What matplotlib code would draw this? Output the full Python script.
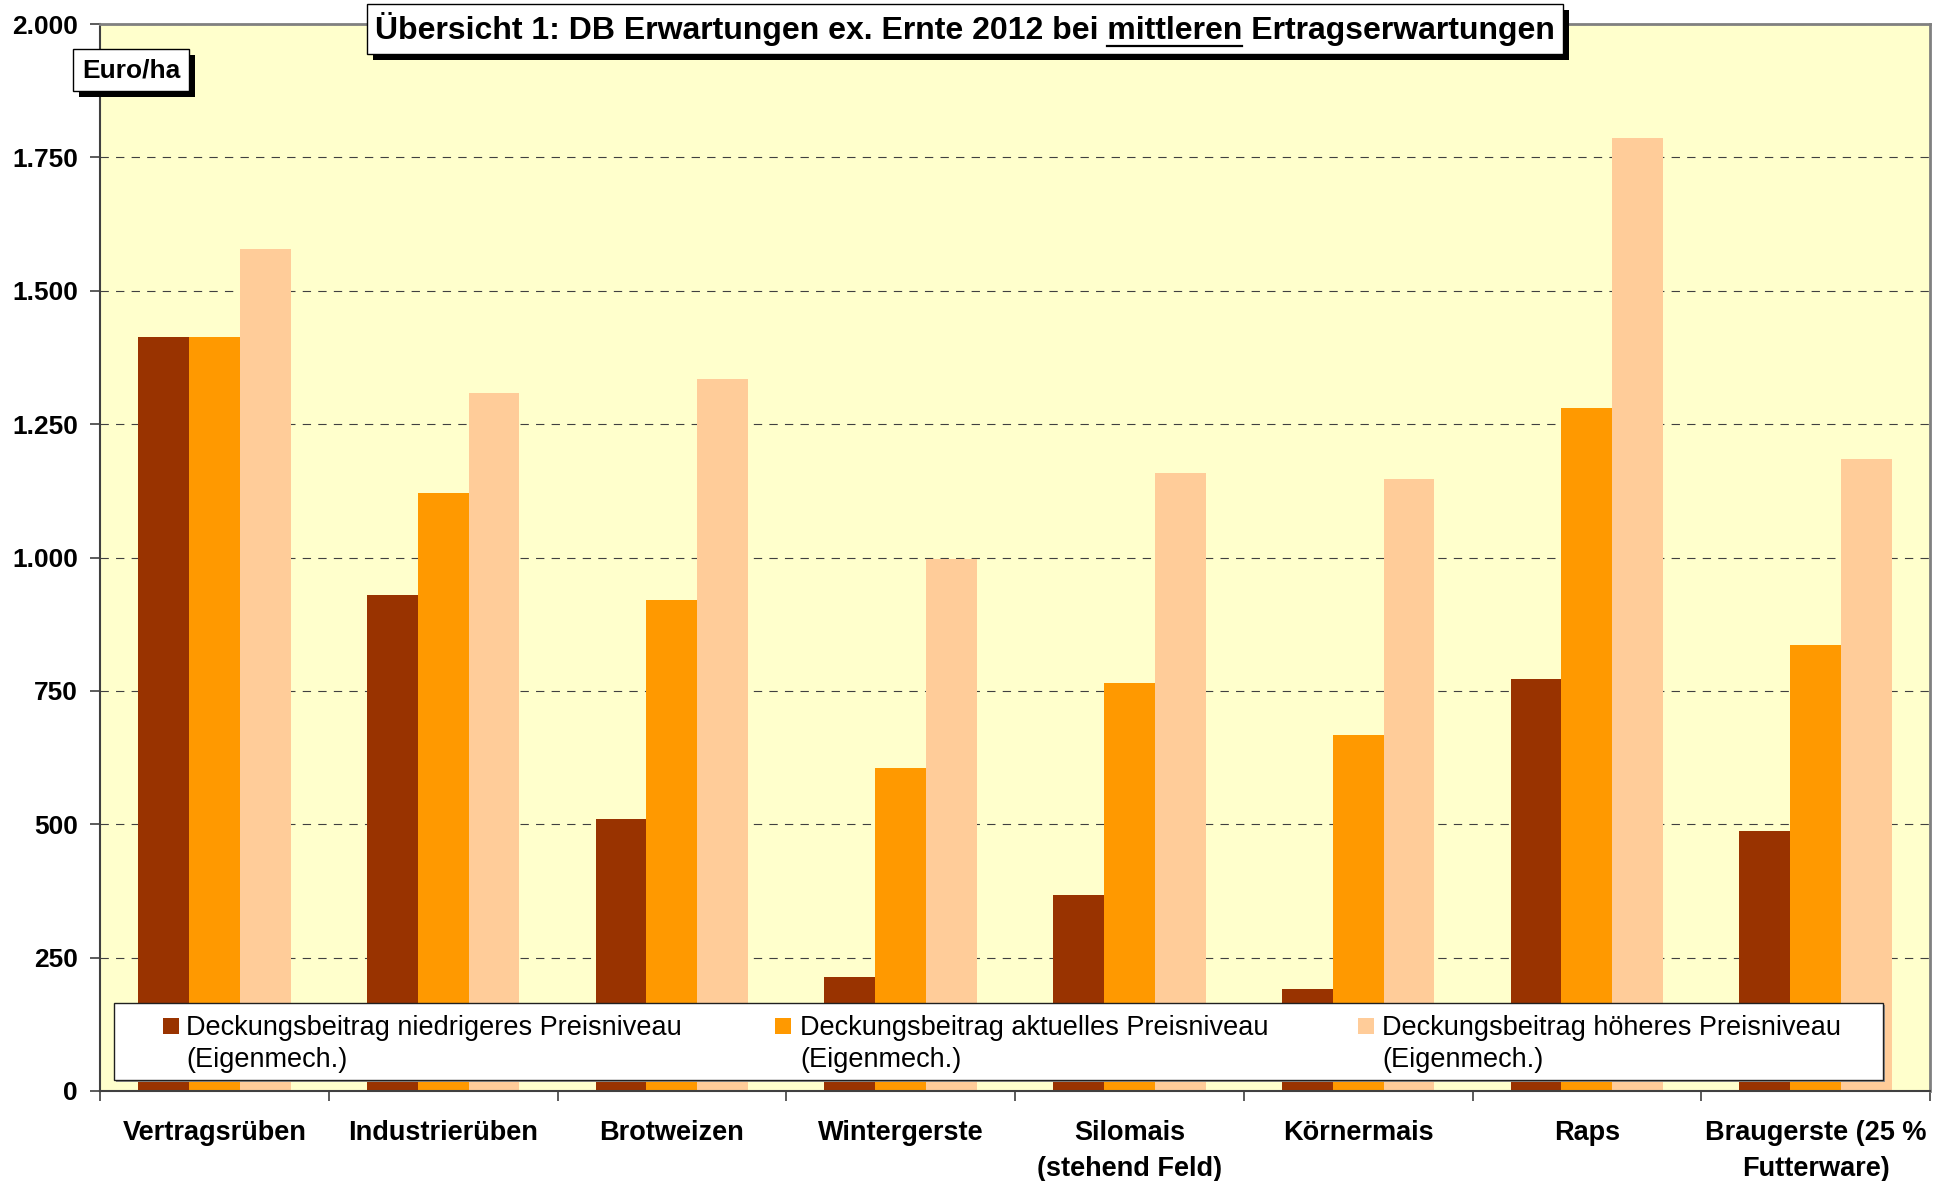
import numpy as np
import matplotlib
matplotlib.use("Agg")
import matplotlib.pyplot as plt
from matplotlib.patches import Rectangle
from matplotlib.lines import Line2D
from matplotlib.transforms import offset_copy
from matplotlib.ticker import FuncFormatter

plt.rcParams["font.family"] = ["Liberation Sans", "DejaVu Sans"]

# Data (Euro/ha)
crops = [
    "Vertragsrüben", "Industrierüben", "Brotweizen", "Wintergerste",
    "Silomais\n(stehend Feld)", "Körnermais", "Raps", "Braugerste (25 %\nFutterware)",
]
db_low = [1413, 929, 510, 214, 368, 191, 773, 487]
db_current = [1413, 1120, 920, 605, 764, 668, 1281, 836]
db_high = [1579, 1309, 1334, 997, 1159, 1148, 1786, 1185]
series_labels = [
    "Deckungsbeitrag niedrigeres Preisniveau",
    "Deckungsbeitrag aktuelles Preisniveau",
    "Deckungsbeitrag höheres Preisniveau",
]
series_note = "(Eigenmech.)"
y_ticks = np.arange(0, 2001, 250)

title_pre = "Übersicht 1: DB Erwartungen ex. Ernte 2012 bei "
title_word = "mittleren"
title_post = " Ertragserwartungen"
unit_label = "Euro/ha"

# Colors
colors = ["#993300", "#FF9900", "#FFCC99"]
bg_color = "#FFFFCC"

# Figure
W, H = 1946, 1181
fig = plt.figure(figsize=(W / 100, H / 100), dpi=100)
ax = fig.add_axes([100 / W, 1 - 1091 / H, 1830 / W, 1067 / H])
ax.set_facecolor(bg_color)

# Bars
x = np.arange(len(crops))
bar_w = 0.222
for i, (vals, color) in enumerate(zip([db_low, db_current, db_high], colors)):
    ax.bar(x + (i - 1) * bar_w, vals, width=bar_w, color=color, linewidth=0, zorder=2)

# Axes limits and ticks
ax.set_xlim(-0.5, len(crops) - 0.5)
ax.set_ylim(0, 2000)
ax.set_yticks(y_ticks)
ax.yaxis.set_major_formatter(FuncFormatter(lambda v, p: f"{int(v):,}".replace(",", ".")))
ax.tick_params(axis="y", length=7, width=1.2, color="#404040", pad=9, labelsize=19)
for lbl in ax.get_yticklabels():
    lbl.set_fontweight("bold")

ax.set_xticks(x)
ax.set_xticklabels(crops, fontsize=19.5, fontweight="bold", linespacing=1.5)
ax.tick_params(axis="x", which="major", length=0, pad=21)
ax.set_xticks(np.arange(-0.5, len(crops)), minor=True)
ax.tick_params(axis="x", which="minor", length=7, width=1.2, color="#404040")

# Grid
ax.yaxis.grid(True, linestyle=(0, (7.5, 6.5)), color="#404040", linewidth=0.8)
ax.set_axisbelow(True)

# Spines
ax.spines["left"].set_color("#404040")
ax.spines["left"].set_linewidth(1.5)
ax.spines["bottom"].set_color("#404040")
ax.spines["bottom"].set_linewidth(1.5)
ax.spines["top"].set_color("#808080")
ax.spines["top"].set_linewidth(2)
ax.spines["right"].set_color("#808080")
ax.spines["right"].set_linewidth(2)


# Legend box (drawn by hand so the square sits on the first line)
def ax_x(px):
    return (px - 100) / 1830


def ax_y(py):
    return (1091 - py) / 1067


leg_x0, leg_x1 = ax_x(114), ax_x(1883)
leg_y0, leg_y1 = ax_y(1080), ax_y(1003)
ax.add_patch(Rectangle(
    (leg_x0, leg_y0), leg_x1 - leg_x0, leg_y1 - leg_y0,
    transform=offset_copy(ax.transAxes, fig=fig, x=2, y=-2, units="dots"),
    facecolor="#909090", edgecolor="none", zorder=4, clip_on=False,
))
ax.add_patch(Rectangle(
    (leg_x0, leg_y0), leg_x1 - leg_x0, leg_y1 - leg_y0,
    transform=ax.transAxes, facecolor="white", edgecolor="#202020",
    linewidth=1, zorder=5, clip_on=False,
))
square_px = [163, 775, 1358]
text_px = [186, 800, 1382]
for sq, tx, color, label in zip(square_px, text_px, colors, series_labels):
    ax.add_patch(Rectangle(
        (ax_x(sq), ax_y(1034)), 16 / 1830, 16 / 1067,
        transform=ax.transAxes, facecolor=color, edgecolor="none", zorder=6,
    ))
    ax.text(ax_x(tx), ax_y(1035), label, transform=ax.transAxes,
            fontsize=19.5, va="baseline", ha="left", zorder=6)
    ax.text(ax_x(tx), ax_y(1067), series_note, transform=ax.transAxes,
            fontsize=19.5, va="baseline", ha="left", zorder=6)

# Title box
title = title_pre + title_word + title_post
title_size = 23
title_x, title_y = 965 / W, 1 - 39 / H
title_txt = fig.text(
    title_x, title_y, title, fontsize=title_size, fontweight="bold",
    ha="center", va="baseline", color="black", zorder=4,
    bbox=dict(boxstyle="square,pad=0.25", facecolor="white", edgecolor="black", linewidth=1),
)

# Unit label box
unit_txt = fig.text(
    131 / W, 1 - 70 / H, unit_label, fontsize=19, fontweight="bold",
    ha="center", va="center", color="black", zorder=4,
    bbox=dict(boxstyle="square,pad=0.35", facecolor="white", edgecolor="black", linewidth=1),
)

fig.canvas.draw()
renderer = fig.canvas.get_renderer()

# Black drop shadows behind the two boxes
for txt in [title_txt, unit_txt]:
    bb = txt.get_bbox_patch().get_window_extent(renderer)
    fig.add_artist(Rectangle(
        ((bb.x0 + 6) / W, (bb.y0 - 6) / H), bb.width / W, bb.height / H,
        transform=fig.transFigure, facecolor="black", edgecolor="none", zorder=3,
    ))


# Underline "mittleren"
def text_width(s):
    t = fig.text(0, 0, s, fontsize=title_size, fontweight="bold")
    w = t.get_window_extent(renderer).width
    t.remove()
    return w


full_w = text_width(title)
upto_w = text_width(title_pre + title_word)
word_w = text_width(title_word)
left_px = title_x * W - full_w / 2
u_x0 = (left_px + upto_w - word_w) / W
u_x1 = (left_px + upto_w) / W
u_y = title_y - 7 / H
fig.add_artist(Line2D([u_x0, u_x1], [u_y, u_y], color="black", linewidth=1.6,
                      transform=fig.transFigure, zorder=5))

fig.savefig("out.png", dpi=100)
